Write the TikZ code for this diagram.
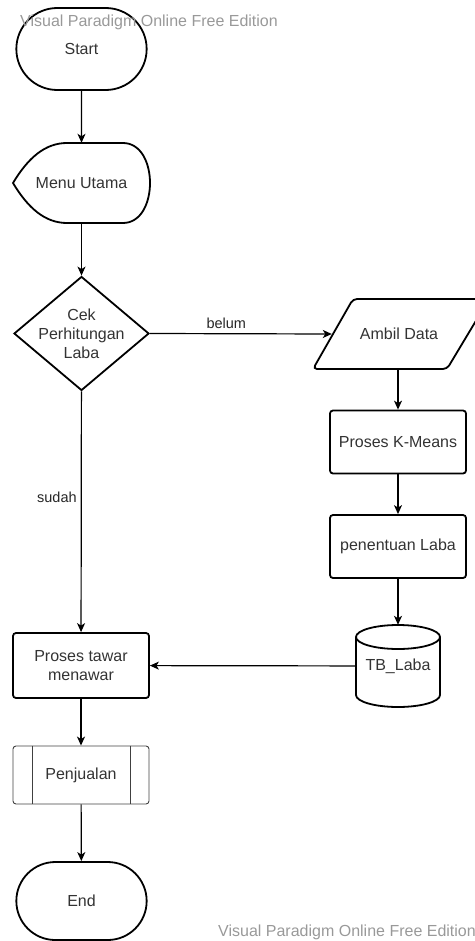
\documentclass[tikz,border=0pt]{standalone}
\usepackage{fontspec}
\setmainfont{Liberation Sans}
\usetikzlibrary{shapes.geometric, shapes.misc, arrows.meta, calc}

\begin{document}
\begin{tikzpicture}[x=1pt, y=-1pt,
  every node/.style={font=\fontsize{16}{19}\selectfont, text=black!80},
  bold/.style={line width=1.8pt},
  term/.style={draw, bold, rounded rectangle, minimum width=137pt, minimum height=82pt},
  proc/.style={draw, bold, rectangle, rounded corners=3pt, minimum width=136pt, minimum height=63pt, align=center},
  dec/.style={draw, bold, diamond, minimum width=135pt, minimum height=114pt, inner sep=0pt},
  sub/.style={draw=black!75, line width=0.9pt, rectangle, rounded corners=3pt, minimum width=136pt, minimum height=58pt},
  lbl/.style={font=\fontsize{14.5}{17}\selectfont, text=black!85},
  wm/.style={font=\fontsize{16}{19}\selectfont, text=black!40, anchor=west, inner sep=0pt},
  arr/.style={-{Stealth[length=9pt, width=8pt, inset=2.5pt]}, line width=1.2pt}
]
\useasboundingbox (0,0) rectangle (474,941);

% left column
\node[term] (start) at (81.5,49){Start};
\node[minimum width=137pt, minimum height=80pt, inner sep=0pt] (menu) at (81.5,183){Menu Utama};
\draw[bold] (13,183) .. controls (28,158) and (45,143) .. (67,143) -- (123,143)
  .. controls (141,143) and (150,163) .. (150,183) .. controls (150,203) and (141,223) .. (123,223)
  -- (67,223) .. controls (45,223) and (28,208) .. (13,183) -- cycle;
\node[dec] (cek) at (81.5,333.5){};
\node[align=center, inner sep=0pt] (cektxt) at (cek){Cek\\Perhitungan\\Laba};
\node[proc, minimum height=65pt] (tawar) at (81,665.5){Proses tawar\\menawar};
\node[sub] (jual) at (81,775){Penjualan};
\draw[draw=black!75, line width=0.9pt] ($(jual.north west)+(20,0)$) -- ($(jual.south west)+(20,0)$);
\draw[draw=black!75, line width=0.9pt] ($(jual.north east)+(-19,0)$) -- ($(jual.south east)+(-19,0)$);
\node[term, minimum height=78pt] (end) at (81.5,901){End};

% right column
\node[minimum width=134pt, minimum height=70pt, inner sep=0pt] (ambil) at (399,334){Ambil Data};
\draw[bold, rounded corners=4pt] (313,369) -- (353,299) -- (489,299) -- (447,369) -- cycle;
\node[proc] (kmeans) at (398,442){Proses K-Means};
\node[proc] (tentu) at (398,546.5){penentuan Laba};
\node[minimum width=84pt, minimum height=82pt, inner sep=0pt] (tb) at (398,666){TB\_Laba};
\draw[bold] (398,637) ellipse [x radius=42pt, y radius=12pt];
\draw[bold] (356,637) -- (356,695) arc[start angle=180, end angle=360, x radius=42pt, y radius=12pt] -- (440,637);

% connectors
\draw[arr] (start) -- (menu);
\draw[arr] (menu) -- (cek);
\draw[arr] (cek.east) -- node[lbl, above=4pt, pos=0.42, inner sep=0pt]{belum} (ambil.west);
\draw[arr] (cek) -- node[lbl, left=4pt, pos=0.44, inner sep=0pt]{sudah} (tawar);
\draw[arr] (ambil.south -| kmeans.north) -- (kmeans);
\draw[arr] (kmeans) -- (tentu);
\draw[arr] (tentu) -- (tb);
\draw[arr] (tb) -- (tawar);
\draw[arr] (tawar) -- (jual);
\draw[arr] (jual) -- (end);

% watermarks
\node[wm] (wmtop) at (20,22){Visual Paradigm Online Free Edition};
\node[wm] (wmbot) at (218,932){Visual Paradigm Online Free Edition};
\end{tikzpicture}
\end{document}
